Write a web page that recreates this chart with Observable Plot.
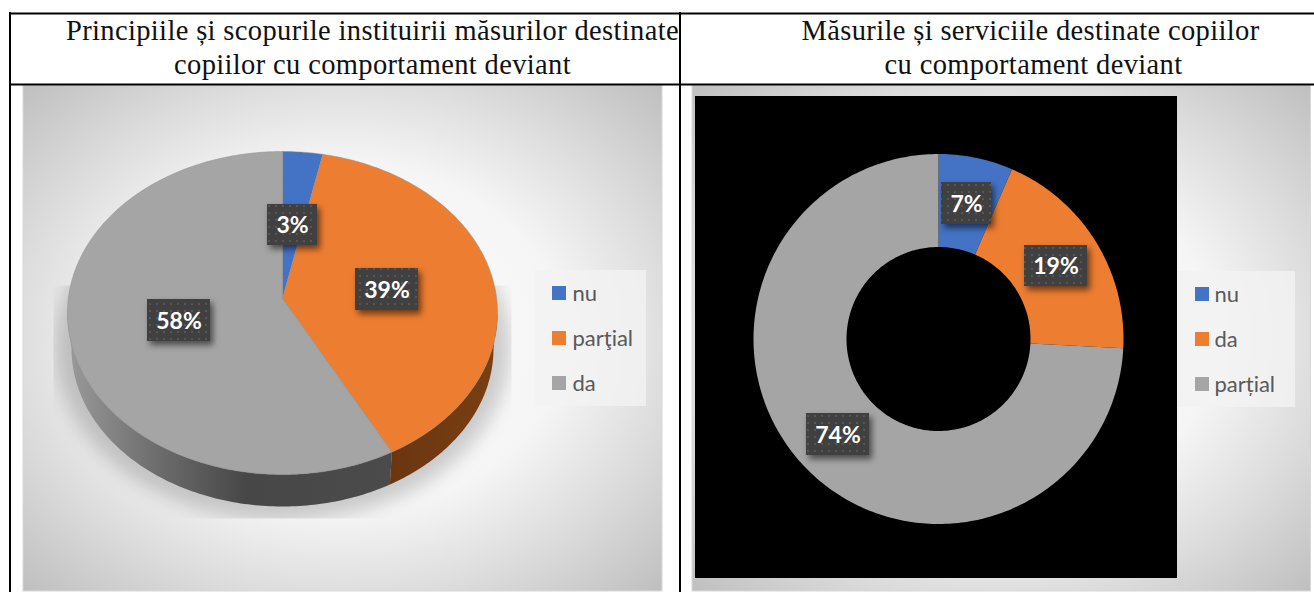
<!DOCTYPE html>
<html>
<head>
<meta charset="utf-8">
<script src="https://cdn.jsdelivr.net/npm/d3@7"></script>
<script src="https://cdn.jsdelivr.net/npm/@observablehq/plot@0.6"></script>
<style>
  html, body { margin: 0; padding: 0; background: #fff; overflow: hidden; }
  svg { display: block; }
</style>
</head>
<body>
<script>
// ---- data ----
const pieTitle = ["Principiile și scopurile instituirii măsurilor destinate", "copiilor cu comportament deviant"];
const donutTitle = ["Măsurile și serviciile destinate copiilor", "cu comportament deviant"];
const pieCategories = ["nu", "parţial", "da"];
const pieValues = [3.0, 38.5, 58.49];
const donutCategories = ["nu", "da", "parțial"];
const donutValues = [6.5, 19.3, 74.2];
const colors = ["#4472c4", "#ed7d31", "#a5a5a5"];

// ---- layout of the page ----
const W = 1314, H = 592;
const pie = {cx: 282, cy: 312.5, rx: 215, ry: 161.5, apexY: 298, wallRx: 211, wallRy: 158, wallDy: 35.5};
const donut = {cx: 938, cy: 338.5, r: 185, r0: 92};
const panelBoxes = [
  {x1: 23, x2: 662, y1: 85, y2: 591, fill: "url(#panelLeft)"},
  {x1: 692, x2: 1310.5, y1: 85, y2: 591, fill: "url(#panelRight)"}
];
const pieLabelBoxes = [[267, 317, 204, 245], [355, 418, 268, 310], [147, 210, 299, 341]];
const donutLabelBoxes = [[941, 991, 182, 224], [1024, 1087, 245, 286], [806, 869, 413, 455]];
const legendLayout = [
  {x1: 535, x2: 646, y1: 270, y2: 406, swatchX: 552, textX: 572, rowY: [293, 338, 383], names: pieCategories},
  {x1: 1177, x2: 1295, y1: 271, y2: 407, swatchX: 1195, textX: 1214, rowY: [294, 339, 384], names: donutCategories}
];
const titleRows = [
  {text: pieTitle[0], x: 372, y: 30}, {text: pieTitle[1], x: 372, y: 64},
  {text: donutTitle[0], x: 1030, y: 30}, {text: donutTitle[1], x: 1033, y: 64}
];

// ---- geometry derived from the values ----
const rad = d => d * Math.PI / 180;
function spans(values) {
  const total = d3.sum(values);
  let acc = 0;
  return values.map((v, i) => {
    const a = acc / total * 360; acc += v;
    return {rank: i, a, b: acc / total * 360, value: v};
  });
}
const sweep = (a, b) => d3.range(a, b, 1).concat([b]);
const rim = (t, cx, cy, rx, ry) => ({x: cx + rx * Math.sin(rad(t)), y: cy - ry * Math.cos(rad(t))});

const pieSpans = spans(pieValues);
const pieWedges = pieSpans.flatMap(s => [
  {x: pie.cx, y: pie.apexY, rank: s.rank},
  ...sweep(s.a, s.b).map(t => ({...rim(t, pie.cx, pie.cy, pie.rx, pie.ry), rank: s.rank}))
]);
function wall(a, b, key) {
  return [
    ...sweep(a, b).map(t => ({...rim(t, pie.cx, pie.cy, pie.rx, pie.ry), key})),
    ...sweep(a, b).reverse().map(t => ({...rim(t, pie.cx, pie.cy + pie.wallDy, pie.wallRx, pie.wallRy), key}))
  ];
}
const wallSplit = pieSpans[1].b;
const wallOrange = wall(90, wallSplit, "orange");
const wallGray = wall(wallSplit, 270, "gray");
const shadowShape = sweep(0, 360).map(t => ({...rim(t, pie.cx, pie.cy + 34, pie.rx + 12, pie.ry + 12), key: "s"}));

const donutSpans = spans(donutValues);
const donutWedges = donutSpans.flatMap(s => [
  ...sweep(s.a, s.b).map(t => ({...rim(t, donut.cx, donut.cy, donut.r, donut.r), rank: s.rank})),
  ...sweep(s.a, s.b).reverse().map(t => ({...rim(t, donut.cx, donut.cy, donut.r0, donut.r0), rank: s.rank}))
]);

const labelRows = (vals, boxes) => vals.map((v, i) => ({
  x1: boxes[i][0], x2: boxes[i][1], y1: boxes[i][2], y2: boxes[i][3],
  label: Math.round(v) + "%"
}));
const valueRows = [...labelRows(pieValues, pieLabelBoxes), ...labelRows(donutValues, donutLabelBoxes)];
const legendRows = legendLayout.flatMap(l => l.names.map((name, i) => ({
  name, rank: i, x1: l.swatchX, x2: l.swatchX + 14, y1: l.rowY[i] - 7, y2: l.rowY[i] + 7, tx: l.textX, ty: l.rowY[i]
})));

const panelStops = `
  <stop offset="0" stop-color="#ffffff"/><stop offset="0.48" stop-color="#f5f5f5"/>
  <stop offset="0.72" stop-color="#dcdcdc"/><stop offset="1" stop-color="#bdbdbd"/>`;
const defs = () => {
  const g = d3.create("svg:defs");
  g.html(`
    <radialGradient id="panelLeft" cx="0.5" cy="0.5" r="0.72">${panelStops}</radialGradient>
    <radialGradient id="panelRight" cx="0.5" cy="0.5" r="0.72">${panelStops}</radialGradient>
    <linearGradient id="wallGrayFill" x1="0" x2="1" y1="0" y2="0">
      <stop offset="0" stop-color="#9a9a9a"/><stop offset="0.28" stop-color="#6c6c6c"/>
      <stop offset="0.55" stop-color="#474747"/><stop offset="1" stop-color="#4b4b4b"/>
    </linearGradient>
    <linearGradient id="wallOrangeFill" x1="0" x2="1" y1="0" y2="0">
      <stop offset="0" stop-color="#6a3610"/><stop offset="1" stop-color="#7a3f13"/>
    </linearGradient>
    <pattern id="boxDots" width="7" height="7" patternUnits="userSpaceOnUse">
      <rect width="7" height="7" fill="#404040"/><rect x="2" y="2" width="2" height="2" fill="#565656"/>
    </pattern>
    <clipPath id="shadowClip"><rect x="53" y="285" width="458" height="233"/></clipPath>
  `);
  return g.node();
};

// Attach a CSS style to the <g> that a mark renders.
const groupStyle = css => ({
  render(index, scales, values, dimensions, context, next) {
    const g = next(index, scales, values, dimensions, context);
    g.style.cssText += css;
    return g;
  }
});

const font = "Lato, 'Open Sans', sans-serif";
const serif = "'Liberation Serif', serif";
const chart = Plot.plot({
  width: W, height: H,
  marginTop: 0, marginRight: 0, marginBottom: 0, marginLeft: 0,
  style: {background: "#fff"},
  x: {domain: [0, W], range: [0, W], axis: null},
  y: {domain: [0, H], range: [0, H], axis: null},
  color: {type: "ordinal", domain: [0, 1, 2], range: colors},
  marks: [
    defs,
    Plot.rect(panelBoxes, {x1: "x1", x2: "x2", y1: "y1", y2: "y2", fill: d => d.fill, stroke: "#d8d8d8", strokeWidth: 1}),
    Plot.rect([panelBoxes[1]], {x1: 695, x2: 1177, y1: 96, y2: 578, fill: "#000"}),
    Plot.rect(legendLayout, {x1: "x1", x2: "x2", y1: "y1", y2: "y2", fill: "#f2f2f2", fillOpacity: 0.8}),

    Plot.line(shadowShape, {x: "x", y: "y", z: "key", fill: "#000", fillOpacity: 0.18, stroke: null,
      ...groupStyle("filter:blur(9px);clip-path:url(#shadowClip);")}),
    Plot.line(wallGray, {x: "x", y: "y", z: "key", fill: "url(#wallGrayFill)", stroke: null}),
    Plot.line(wallOrange, {x: "x", y: "y", z: "key", fill: "url(#wallOrangeFill)", stroke: null}),
    Plot.line(pieWedges, {x: "x", y: "y", z: "rank", fill: "rank", stroke: "#8c8c8c", strokeWidth: 0.5, curve: "linear-closed"}),
    Plot.line(donutWedges, {x: "x", y: "y", z: "rank", fill: "rank", stroke: null, curve: "linear-closed"}),

    Plot.rect(valueRows, {x1: "x1", x2: "x2", y1: "y1", y2: "y2", fill: "url(#boxDots)",
      ...groupStyle("filter:drop-shadow(3px 4px 3px rgba(0,0,0,.55));")}),
    Plot.text(valueRows, {
      x: d => (d.x1 + d.x2) / 2, y: d => (d.y1 + d.y2) / 2 + 1, text: "label",
      fill: "#fff", fontFamily: font, fontWeight: 700, fontSize: 23
    }),

    Plot.rect(legendRows, {x1: "x1", x2: "x2", y1: "y1", y2: "y2", fill: "rank"}),
    Plot.text(legendRows, {
      x: "tx", y: "ty", text: "name", textAnchor: "start",
      fill: "#595959", fontFamily: font, fontSize: 22
    }),

    Plot.text(titleRows, {
      x: "x", y: "y", text: "text",
      fill: "#111", fontFamily: serif, fontSize: 28.5,
      ...groupStyle("letter-spacing:.36px;")
    }),

    Plot.ruleY([13, 84], {x1: 9, x2: W, stroke: "#000", strokeWidth: 2}),
    Plot.ruleX([9.5], {y1: 12, y2: H, stroke: "#000", strokeWidth: 2}),
    Plot.ruleX([679.5], {y1: 12, y2: H, stroke: "#000", strokeWidth: 2})
  ]
});
document.body.appendChild(chart);
</script>
</body>
</html>
